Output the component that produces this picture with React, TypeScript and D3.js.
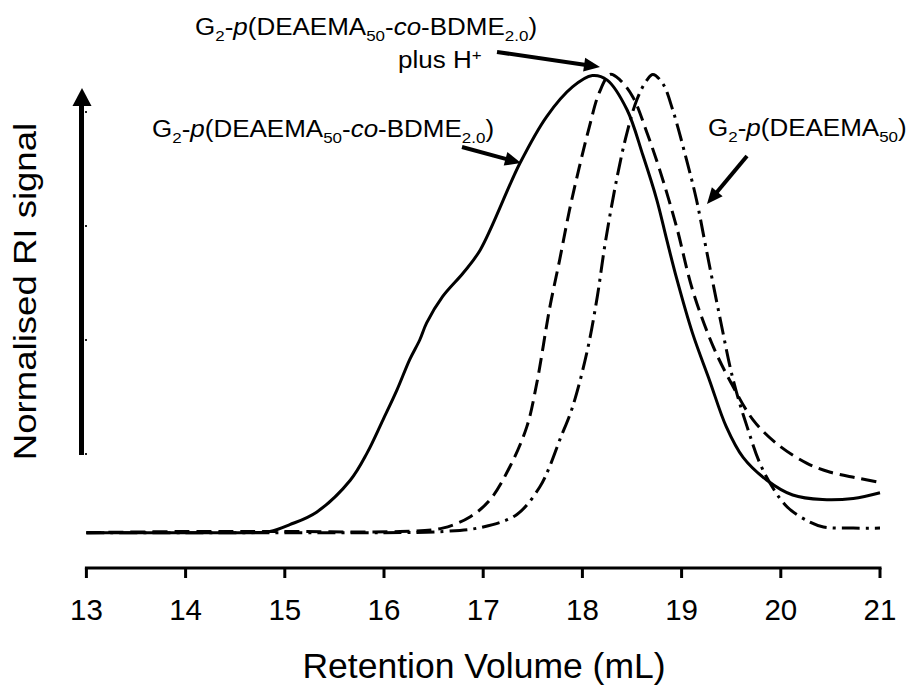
import React from "react";
import * as d3 from "d3";

// ---- data (retention volume in mL, normalised RI signal in arbitrary units) ----
const xTicks = [13, 14, 15, 16, 17, 18, 19, 20, 21];
const yTicks = [1, 2, 3, 4];

const copolymerVol = [13.0, 14.0, 14.65, 14.85, 15.05, 15.32, 15.66, 15.83, 15.99, 16.13, 16.26, 16.36, 16.43, 16.59, 16.8, 16.97, 17.37, 17.64, 17.9, 18.1, 18.25, 18.45, 18.61, 18.75, 18.85, 18.95, 19.11, 19.28, 19.45, 19.62, 19.86, 20.12, 20.42, 20.73, 21.0];
const copolymerSig = [0.31, 0.31, 0.31, 0.32, 0.38, 0.49, 0.77, 1.01, 1.3, 1.56, 1.83, 2.0, 2.15, 2.38, 2.59, 2.79, 3.55, 3.96, 4.22, 4.32, 4.28, 4.02, 3.62, 3.23, 2.88, 2.54, 2.06, 1.65, 1.24, 0.97, 0.77, 0.64, 0.6, 0.61, 0.66];

const protonatedVol = [13.0, 14.0, 15.0, 16.16, 16.59, 16.87, 17.07, 17.27, 17.44, 17.54, 17.67, 17.77, 17.87, 17.97, 18.07, 18.17, 18.28, 18.38, 18.51, 18.65, 18.78, 18.95, 19.11, 19.32, 19.52, 19.72, 19.96, 20.26, 20.5, 20.77, 21.0];
const protonatedSig = [0.31, 0.32, 0.32, 0.32, 0.35, 0.45, 0.6, 0.89, 1.24, 1.62, 2.28, 2.7, 3.14, 3.52, 3.87, 4.17, 4.33, 4.28, 4.13, 3.82, 3.49, 2.99, 2.44, 1.94, 1.59, 1.3, 1.09, 0.92, 0.84, 0.79, 0.75];

const homopolymerVol = [13.0, 14.0, 15.0, 16.0, 16.6, 17.0, 17.34, 17.57, 17.67, 17.77, 17.9, 18.05, 18.15, 18.23, 18.35, 18.45, 18.55, 18.65, 18.71, 18.81, 18.91, 19.05, 19.15, 19.25, 19.39, 19.52, 19.66, 19.82, 20.06, 20.3, 20.43, 20.73, 21.0];
const homopolymerSig = [0.31, 0.31, 0.31, 0.31, 0.32, 0.36, 0.47, 0.71, 0.89, 1.12, 1.41, 1.91, 2.38, 2.85, 3.43, 3.82, 4.11, 4.28, 4.33, 4.25, 4.02, 3.58, 3.23, 2.79, 2.18, 1.65, 1.24, 0.86, 0.54, 0.4, 0.36, 0.35, 0.35];

const W = 912;
const H = 686;
const FONT = "'Liberation Sans', Arial, Helvetica, sans-serif";

const x = d3.scaleLinear().domain([13, 21]).range([86.4, 880]);
const y = d3.scaleLinear().domain([0, 4.5]).range([568, 55]);

const line = d3
  .line<[number, number]>()
  .x((d) => x(d[0]))
  .y((d) => y(d[1]))
  .curve(d3.curveCatmullRom.alpha(0.5));

const zip = (a: number[], b: number[]) => a.map((v, i) => [v, b[i]] as [number, number]);

function Arrow({ x1, y1, x2, y2, w = 4, head = 16, hw = 7 }: any) {
  const dx = x2 - x1;
  const dy = y2 - y1;
  const len = Math.hypot(dx, dy);
  const ux = dx / len;
  const uy = dy / len;
  const bx = x2 - ux * head;
  const by = y2 - uy * head;
  const px = -uy;
  const py = ux;
  return (
    <g>
      <line x1={x1} y1={y1} x2={bx + ux * 2} y2={by + uy * 2} stroke="#000" strokeWidth={w} />
      <polygon
        points={`${x2},${y2} ${bx + px * hw},${by + py * hw} ${bx - px * hw},${by - py * hw}`}
        fill="#000"
      />
    </g>
  );
}

function CopolymerLabel({ tx, ty }: { tx: number; ty: number }) {
  return (
    <g transform={`translate(${tx},${ty}) scale(1.13,1)`}>
      <text x={0} y={0} fontFamily={FONT} fontSize={23} fill="#000">
        G<tspan fontSize={15} dy={6}>2</tspan>
        <tspan dy={-6}>-</tspan>
        <tspan fontStyle="italic">p</tspan>
        <tspan>(DEAEMA</tspan>
        <tspan fontSize={15} dy={6}>50</tspan>
        <tspan dy={-6}>-</tspan>
        <tspan fontStyle="italic">co</tspan>
        <tspan>-BDME</tspan>
        <tspan fontSize={15} dy={6}>2.0</tspan>
        <tspan dy={-6}>)</tspan>
      </text>
    </g>
  );
}

export default function App() {
  const series = [
    { data: zip(copolymerVol, copolymerSig), dash: undefined },
    { data: zip(protonatedVol, protonatedSig), dash: "15,7" },
    { data: zip(homopolymerVol, homopolymerSig), dash: "18,6,3,6" },
  ];
  return (
    <svg
      width={W}
      height={H}
      viewBox={`0 0 ${W} ${H}`}
      style={{ position: "absolute", left: 0, top: 0, display: "block", background: "#fff" }}
    >
      <rect width={W} height={H} fill="#fff" />

      {/* x axis */}
      <line x1={x(13) - 1.5} x2={x(21) + 1.5} y1={568} y2={568} stroke="#000" strokeWidth={3} />
      {xTicks.map((t) => (
        <g key={t}>
          <line x1={x(t)} x2={x(t)} y1={568} y2={578} stroke="#000" strokeWidth={3} />
          <text x={x(t)} y={620} textAnchor="middle" fontFamily={FONT} fontSize={29.5} fill="#000">
            {t}
          </text>
        </g>
      ))}
      <text x={484} y={678} textAnchor="middle" fontFamily={FONT} fontSize={35.5} fill="#000">
        Retention Volume (mL)
      </text>

      {/* y axis: arrow + tick dots */}
      <line x1={81.5} x2={81.5} y1={455} y2={103} stroke="#000" strokeWidth={5} />
      <polygon points="82,88 72.5,106 91.5,106" fill="#000" />
      {yTicks.map((t) => (
        <rect key={t} x={85} y={y(t) - 1} width={2} height={2} fill="#222" />
      ))}
      <g transform="translate(36,291.5) rotate(-90) scale(1.18,1)">
        <text x={0} y={0} textAnchor="middle" fontFamily={FONT} fontSize={31} fill="#000">
          Normalised RI signal
        </text>
      </g>

      {/* traces */}
      {series.map((s, i) => (
        <path
          key={i}
          d={line(s.data) || ""}
          fill="none"
          stroke="#000"
          strokeWidth={3}
          strokeDasharray={s.dash}
          strokeLinejoin="round"
        />
      ))}

      {/* annotations */}
      <CopolymerLabel tx={195} ty={35} />
      <g transform="translate(398,68) scale(1.13,1)">
        <text x={0} y={0} fontFamily={FONT} fontSize={23} fill="#000">
          plus H<tspan fontSize={15} dy={-8}>+</tspan>
        </text>
      </g>
      <Arrow x1={497} y1={52} x2={600} y2={67} />

      <CopolymerLabel tx={152} ty={137} />
      <Arrow x1={462} y1={147} x2={521} y2={163} />

      <g transform="translate(708,136) scale(1.13,1)">
        <text x={0} y={0} fontFamily={FONT} fontSize={23} fill="#000">
          G<tspan fontSize={15} dy={6}>2</tspan>
          <tspan dy={-6}>-</tspan>
          <tspan fontStyle="italic">p</tspan>
          <tspan>(DEAEMA</tspan>
          <tspan fontSize={15} dy={6}>50</tspan>
          <tspan dy={-6}>)</tspan>
        </text>
      </g>
      <Arrow x1={747} y1={156} x2={707} y2={204} />
    </svg>
  );
}
